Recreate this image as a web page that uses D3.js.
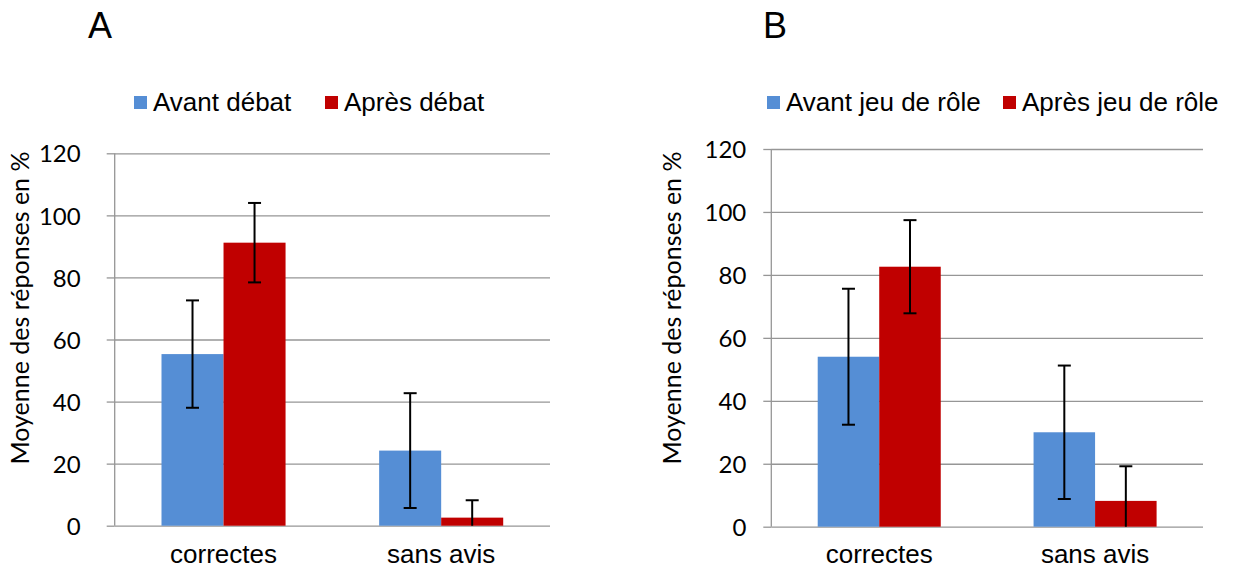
<!DOCTYPE html>
<html>
<head>
<meta charset="utf-8">
<title>Moyenne des réponses</title>
<script src="https://cdn.jsdelivr.net/npm/d3@7"></script>
<style>
  body { margin: 0; background: #fff; }
  svg { display: block; }
</style>
</head>
<body>
<script>
// categories and series
var categories = ["correctes", "sans avis"];
var yTicks = [0, 20, 40, 60, 80, 100, 120];

// panel A : débat
var seriesA = ["Avant débat", "Après débat"];
var avantA = [55.3, 24.2];
var apresA = [91.2, 2.6];
var errAvantA = [17.3, 18.5];
var errApresA = [12.8, 5.6];

// panel B : jeu de rôle
var seriesB = ["Avant jeu de rôle", "Après jeu de rôle"];
var avantB = [54.0, 30.0];
var apresB = [82.6, 8.2];
var errAvantB = [21.6, 21.2];
var errApresB = [14.8, 11.0];

var colors = ["#558ED5", "#C00000"];

var svg = d3.select("body").append("svg")
    .attr("width", 1240)
    .attr("height", 570);

function drawPanel(p) {
  var g = svg.append("g");
  var w = p.right - p.left;

  var y = d3.scaleLinear().domain([0, 120]).range([p.bottom, p.top]);
  var x = d3.scaleBand().domain(categories)
      .range([p.left, p.right])
      .paddingInner(0.43).paddingOuter(0.215);
  var x1 = d3.scaleBand().domain([0, 1]).range([0, x.bandwidth()]);

  // grid lines
  g.append("g")
      .attr("transform", "translate(" + p.left + ",0)")
      .call(d3.axisLeft(y).tickValues(yTicks).tickSizeInner(-w).tickSizeOuter(0).tickFormat(""))
      .call(function(s) {
        s.select(".domain").remove();
        s.selectAll("line").attr("stroke", "#969696").attr("stroke-width", 1.3);
      });

  // y axis with ticks and labels
  g.append("g")
      .attr("transform", "translate(" + p.left + ",0)")
      .call(d3.axisLeft(y).tickValues(yTicks).tickSize(8).tickPadding(p.pad))
      .call(function(s) {
        s.select(".domain").attr("stroke", "#969696").attr("stroke-width", 1.3)
          .attr("d", "M0," + p.top + "V" + p.bottom);
        s.selectAll("line").attr("stroke", "#969696").attr("stroke-width", 1.3);
        s.selectAll("text")
          .attr("font-family", "Lato, 'Open Sans', sans-serif")
          .attr("font-size", 24)
          .attr("fill", "#000")
          .attr("dy", "0.36em");
      });

  // bars
  var flat = [];
  categories.forEach(function(c, i) {
    flat.push({cat: c, s: 0, v: p.avant[i], e: p.errAvant[i]});
    flat.push({cat: c, s: 1, v: p.apres[i], e: p.errApres[i]});
  });

  g.selectAll("rect.bar")
    .data(flat)
    .enter().append("rect")
      .attr("class", "bar")
      .attr("x", function(d) { return x(d.cat) + x1(d.s); })
      .attr("width", x1.bandwidth())
      .attr("y", function(d) { return y(d.v); })
      .attr("height", function(d) { return y(0) - y(d.v); })
      .attr("fill", function(d) { return colors[d.s]; });

  // error bars (lower end cut at 0)
  var eb = g.selectAll("g.err")
    .data(flat)
    .enter().append("g")
      .attr("class", "err")
      .attr("stroke", "#000")
      .attr("stroke-width", 2);
  function cx(d) { return x(d.cat) + x1(d.s) + x1.bandwidth() / 2; }
  eb.append("line")
      .attr("x1", cx).attr("x2", cx)
      .attr("y1", function(d) { return y(d.v + d.e); })
      .attr("y2", function(d) { return y(Math.max(0, d.v - d.e)); });
  eb.append("line")
      .attr("x1", function(d) { return cx(d) - 6.5; })
      .attr("x2", function(d) { return cx(d) + 6.5; })
      .attr("y1", function(d) { return y(d.v + d.e); })
      .attr("y2", function(d) { return y(d.v + d.e); });
  eb.filter(function(d) { return d.v - d.e > 0; })
    .append("line")
      .attr("x1", function(d) { return cx(d) - 6.5; })
      .attr("x2", function(d) { return cx(d) + 6.5; })
      .attr("y1", function(d) { return y(d.v - d.e); })
      .attr("y2", function(d) { return y(d.v - d.e); });

  // category labels
  g.selectAll("text.cat")
    .data(categories)
    .enter().append("text")
      .attr("class", "cat")
      .attr("x", function(d) { return x(d) + x.bandwidth() / 2; })
      .attr("y", 563)
      .attr("text-anchor", "middle")
      .attr("font-family", "'Liberation Sans', Arial, sans-serif")
      .attr("font-size", 26)
      .text(function(d) { return d; });

  // y axis title
  g.append("text")
      .attr("transform", "translate(" + p.titleX + ",308) rotate(-90)")
      .attr("text-anchor", "middle")
      .attr("dy", "0.35em")
      .attr("font-family", "Lato, 'Open Sans', sans-serif")
      .attr("font-size", 25)
      .text("Moyenne des réponses en %");

  // panel letter
  g.append("text")
      .attr("x", p.letterX)
      .attr("y", 38)
      .attr("font-family", "'Liberation Sans', Arial, sans-serif")
      .attr("font-size", 36)
      .text(p.letter);

  // legend
  var lg = g.selectAll("g.leg")
    .data(p.series)
    .enter().append("g")
      .attr("class", "leg")
      .attr("transform", function(d, i) { return "translate(" + p.legendX[i] + ",96)"; });
  lg.append("rect")
      .attr("width", 13).attr("height", 13)
      .attr("fill", function(d, i) { return colors[i]; });
  lg.append("text")
      .attr("x", 19)
      .attr("y", 14.5)
      .attr("font-family", "'Liberation Sans', Arial, sans-serif")
      .attr("font-size", 26)
      .text(function(d) { return d; });
}

drawPanel({
  letter: "A", letterX: 88,
  left: 114.7, right: 550, top: 153.3, bottom: 525.7, pad: 26,
  titleX: 20,
  series: seriesA, legendX: [134, 325],
  avant: avantA, apres: apresA, errAvant: errAvantA, errApres: errApresA
});

drawPanel({
  letter: "B", letterX: 763,
  left: 771.3, right: 1203, top: 149, bottom: 526.7, pad: 17,
  titleX: 672,
  series: seriesB, legendX: [767, 1003],
  avant: avantB, apres: apresB, errAvant: errAvantB, errApres: errApresB
});
</script>
</body>
</html>
